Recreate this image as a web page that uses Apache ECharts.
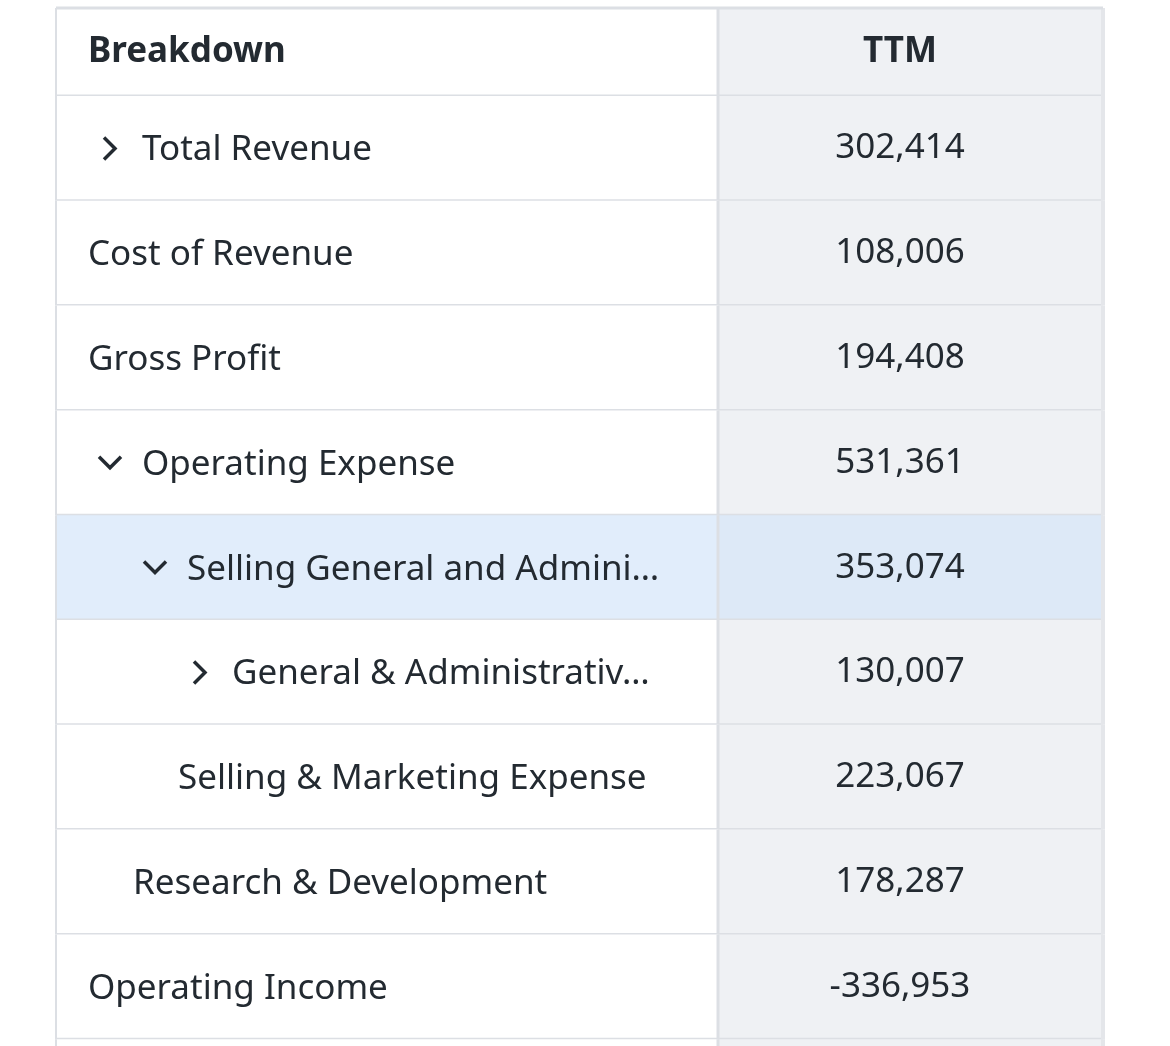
<!DOCTYPE html>
<html><head><meta charset="utf-8">
<script src="https://cdn.jsdelivr.net/npm/echarts@6/dist/echarts.min.js"></script>
<style>html,body{margin:0;background:#fff}#main{width:1170px;height:1046px}</style>
</head><body><div id="main"></div>
<script>
// table content
const headers = ['Breakdown', 'TTM']
const labels = ['Total Revenue', 'Cost of Revenue', 'Gross Profit', 'Operating Expense',
  'Selling General and Admini…', 'General & Administrativ…', 'Selling & Marketing Expense',
  'Research & Development', 'Operating Income', '']
const values = ['302,414', '108,006', '194,408', '531,361', '353,074', '130,007',
  '223,067', '178,287', '-336,953', '']
const levels = [0, 0, 0, 0, 1, 2, 2, 1, 0, 0]
// 0 none, 1 collapsed (>), 2 expanded (v)
const toggles = [1, 0, 0, 2, 2, 1, 0, 0, 0, 0]
const highlighted = [false, false, false, false, true, false, false, false, false, false]

const TOP = 8, HEAD_H = 88, ROW_H = 104.8
const X0 = 56, XDIV = 718, X1 = 1103
const font = '"Noto Sans", sans-serif'
const ink = '#232a31', border = '#dcdfe4'

let chart = echarts.init(document.getElementById('main'))

function renderRow(params, api) {
  const i = api.value(0)
  const isHead = i < 0
  const yTop = isHead ? TOP : TOP + HEAD_H + i * ROW_H
  const h = isHead ? HEAD_H : ROW_H
  const p0 = api.coord([X0, yTop]), pd = api.coord([XDIV, yTop]), p1 = api.coord([X1, yTop + h])
  const hl = !isHead && highlighted[i]
  const cy = p0[1] + h / 2
  const children = [
    { type: 'rect', shape: { x: p0[0], y: p0[1], width: pd[0] - p0[0], height: h },
      style: { fill: hl ? '#e1edfb' : '#ffffff' } },
    { type: 'rect', shape: { x: pd[0], y: p0[1], width: p1[0] - pd[0], height: h },
      style: { fill: hl ? '#dde9f7' : '#eff1f4' } },
    { type: 'line', shape: { x1: p0[0], y1: p0[1] + h, x2: p1[0], y2: p0[1] + h },
      style: { stroke: border, lineWidth: 3 } },
    { type: 'line', shape: { x1: pd[0], y1: p0[1], x2: pd[0], y2: p0[1] + h },
      style: { stroke: border, lineWidth: 3 } },
    { type: 'line', shape: { x1: p0[0], y1: p0[1], x2: p0[0], y2: p0[1] + h },
      style: { stroke: border, lineWidth: 2 } },
    { type: 'line', shape: { x1: p1[0], y1: p0[1], x2: p1[0], y2: p0[1] + h },
      style: { stroke: '#e4e6ea', lineWidth: 4 } }
  ]
  if (isHead) {
    children.push({ type: 'line', shape: { x1: p0[0], y1: p0[1], x2: p1[0], y2: p0[1] },
      style: { stroke: border, lineWidth: 3 } })
    children.push({ type: 'text', x: 88, y: cy, style: { text: headers[0], font: 'bold 35px ' + font,
      fill: ink, verticalAlign: 'middle' } })
    children.push({ type: 'text', x: 900, y: cy, style: { text: headers[1], font: 'bold 35px ' + font,
      fill: ink, align: 'center', verticalAlign: 'middle' } })
  } else {
    const lv = levels[i], tg = toggles[i]
    const tx = tg ? 142 + 45 * lv : 88 + 45 * lv
    if (tg === 1) {
      const cx = 104 + 45 * lv
      children.push({ type: 'polyline', shape: { points: [[cx, cy - 11], [cx + 11, cy], [cx, cy + 11]] },
        style: { stroke: ink, lineWidth: 3.5, fill: null } })
    } else if (tg === 2) {
      const cx = 99 + 45 * lv
      children.push({ type: 'polyline', shape: { points: [[cx, cy - 6], [cx + 11, cy + 5], [cx + 22, cy - 6]] },
        style: { stroke: ink, lineWidth: 3.5, fill: null } })
    }
    children.push({ type: 'text', x: tx, y: cy + 2, style: { text: labels[i], font: '35px ' + font,
      fill: ink, verticalAlign: 'middle' } })
    children.push({ type: 'text', x: 900, y: cy, style: { text: values[i], font: '35px ' + font,
      fill: ink, align: 'center', verticalAlign: 'middle' } })
  }
  return { type: 'group', children: children }
}

const rowData = [[-1]].concat(labels.map((l, i) => [i]))

chart.setOption({
  animation: false,
  grid: { left: 0, right: 0, top: 0, bottom: 0 },
  xAxis: { type: 'value', min: 0, max: 1170, show: false },
  yAxis: { type: 'value', min: 0, max: 1046, inverse: true, show: false },
  series: [{ type: 'custom', renderItem: renderRow, data: rowData, clip: true, silent: true }]
})
</script></body></html>
